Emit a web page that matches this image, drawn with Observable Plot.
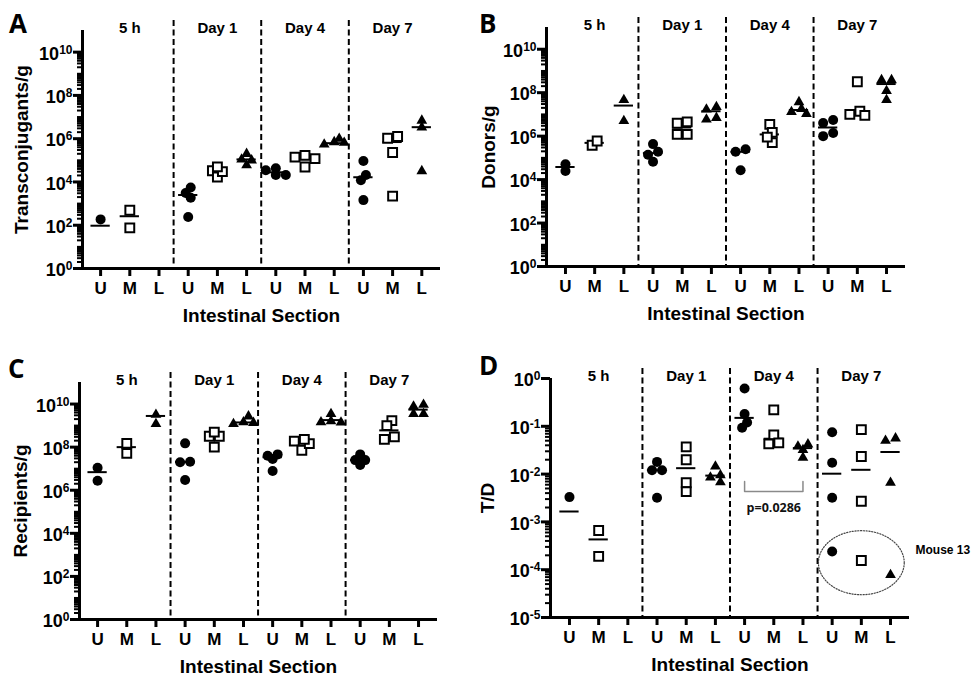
<!DOCTYPE html>
<html>
<head>
<meta charset="utf-8">
<script src="https://cdn.jsdelivr.net/npm/d3@7"></script>
<script src="https://cdn.jsdelivr.net/npm/@observablehq/plot@0.6"></script>
<style>
  body { margin: 0; background: #fff; }
  #wrap { position: relative; width: 973px; height: 677px; overflow: hidden; background: #fff; }
  .panel { position: absolute; }
  .letter { position: absolute; font-family: "Open Sans", "Liberation Sans", sans-serif; font-weight: 700; font-size: 26px; line-height: 26px; color: #000; }
</style>
</head>
<body>
<div id="wrap"></div>
<script>
// ---------------- data ----------------
const timepoints = ["5 h", "Day 1", "Day 4", "Day 7"];
const sections = ["U", "M", "L"];
const xAxisTitle = "Intestinal Section";
const panelLetters = ["A", "B", "C", "D"];
const yTitles = ["Transconjugants/g", "Donors/g", "Recipients/g", "T/D"];

// values per timepoint -> section (U, M, L)
const transconjugants = [
  [[186], [490, 76], []],
  [[5500, 3100, 1870, 240], [33000, 17000, 30000, 50000], [110000, 60000, 100000, 200000]],
  [[35000, 21000, 21000, 43000], [141000, 49000, 120000, 170000], [700000, 540000, 650000, 1000000]],
  [[93000, 21000, 12000, 1450], [1050000, 1260000, 230000, 2200], [6900000, 3300000, 32000]]
];
const transconjugantMedians = [[95, 260, null], [2500, 32000, 110000], [28000, 120000, 620000], [16500, 700000, 3400000]];

const donors = [
  [[25000, 51000], [380000, 600000], [46000000, 5000000]],
  [[430000, 190000, 140000, 66000], [3900000, 1200000, 1200000, 4500000], [17000000, 5900000, 7000000, 22000000]],
  [[190000, 250000, 27000], [3500000, 1500000, 500000, 900000], [18000000, 10700000, 13000000, 37000000]],
  [[5500000, 4000000, 1000000, 1400000], [320000000, 14000000, 10000000, 9000000], [380000000, 380000000, 120000000, 46000000]]
];
const donorMedians = [[38000, 490000, 25500000], [165000, 2500000, 14000000], [190000, 1200000, 16000000], [2500000, 12000000, 250000000]];

const recipients = [
  [[2750000, 11000000], [51000000, 150000000], [1200000000, 3200000000]],
  [[150000000, 21000000, 20000000, 3000000], [320000000, 100000000, 320000000, 500000000], [1350000000, 1200000000, 1450000000, 2700000000]],
  [[46000000, 7800000, 28000000, 40000000], [190000000, 72000000, 145000000, 230000000], [1450000000, 1400000000, 1600000000, 3500000000]],
  [[25000000, 15000000, 25000000, 46000000], [1700000000, 1000000000, 300000000, 230000000], [7800000000, 9300000000, 3500000000, 3500000000]]
];
const recipientMedians = [[6900000, 100000000, 2800000000], [20500000, 320000000, 1400000000], [34000000, 165000000, 1800000000], [25000000, 600000000, 5500000000]];

const ratios = [
  [[0.0033], [0.00066, 0.00019], []],
  [[0.018, 0.012, 0.012, 0.0032], [0.037, 0.020, 0.0066, 0.0043], [0.0145, 0.0095, 0.0085, 0.0068]],
  [[0.62, 0.18, 0.12, 0.093], [0.22, 0.066, 0.045, 0.043], [0.038, 0.032, 0.042, 0.022]],
  [[0.075, 0.0173, 0.0032, 0.00024], [0.085, 0.0234, 0.0027, 0.000156], [0.050, 0.056, 0.0066, 0.000078]]
];
const ratioMedians = [[0.00165, 0.00043, null], [0.012, 0.0133, 0.0093], [0.15, 0.055, 0.035], [0.0102, 0.0123, 0.029]];

const countExponents = [0, 2, 4, 6, 8, 10];
const ratioExponents = [-5, -4, -3, -2, -1, 0];

// annotation of panel D
const pValueText = "p=0.0286";
const pComparison = { timepoint: 2, sectionFrom: 0, sectionTo: 2, bracketY: 0.0043, bracketTop: 0.007, labelY: 0.002 };
const mouseLabel = "Mouse 13";
const mouseCircle = { timepoint: 3, section: 1, centerY: 0.00014, rxSections: 1.47, ryDecades: 0.67, labelY: 0.00026 };

// ---------------- layout ----------------
const layouts = [
  { left: 0,   top: 0,   width: 480, height: 330, ml: 82, mr: 40, mt: 30, mb: 62, xDomain: [-0.62, 11.64], yDomain: [1, 1e11], ylabDx: -61 },
  { left: 480, top: 0,   width: 493, height: 330, ml: 66, mr: 68, mt: 27, mb: 64, xDomain: [-0.65, 11.65], yDomain: [1, 1e11], ylabDx: -58 },
  { left: 0,   top: 330, width: 480, height: 347, ml: 79, mr: 43, mt: 52, mb: 58, xDomain: [-0.62, 11.65], yDomain: [1, 1e11], ylabDx: -59 },
  { left: 480, top: 330, width: 493, height: 347, ml: 70, mr: 64, mt: 48, mb: 60, xDomain: [-0.65, 11.65], yDomain: [1e-5, 1], ylabDx: -63 }
];
const letterPos = [[9, 10], [479, 10], [8, 355], [479, 352]];

const FONT = "'Liberation Sans', Arial, sans-serif";

// spread overlapping points horizontally (GraphPad-style scatter)
function layoutGroup(group, pxX, pxY) {
  const step = 5, T = 6;
  const sorted = group.slice().sort((a, b) => b.v - a.v);
  sorted.forEach(p => p.py = -Math.log10(p.v) * pxY);
  const placed = [];
  for (const p of sorted) {
    for (let k = 0; k < 30; k++) {
      const o = k === 0 ? 0 : (k % 2 ? -1 : 1) * Math.ceil(k / 2) * step;
      if (placed.every(q => (q.px - o) ** 2 + (q.py - p.py) ** 2 >= T * T)) { p.px = o; break; }
    }
    placed.push(p);
  }
  const byY = sorted.slice().sort((a, b) => a.py - b.py);
  let comp = [];
  const flush = () => {
    if (comp.length) {
      const mn = d3.min(comp, d => d.px), mx = d3.max(comp, d => d.px);
      const s = (mn + mx) / 2;
      comp.forEach(d => d.px -= s);
    }
    comp = [];
  };
  byY.forEach((p, i) => {
    if (i > 0 && p.py - byY[i - 1].py >= T) flush();
    comp.push(p);
  });
  flush();
  sorted.forEach(p => p.off = p.px / pxX);
}

function superscript(svg) {
  d3.select(svg).selectAll("text").each(function () {
    const t = this.textContent;
    const m = /^10\^(-?\d+)$/.exec(t);
    if (!m) return;
    const sel = d3.select(this);
    sel.text(null);
    sel.append("tspan").text("10");
    sel.append("tspan").attr("dy", "-0.5em").attr("font-size", "12px").text(m[1]);
  });
}

function buildPanel(k, values, medians, exponents) {
  const L = layouts[k];
  const pxX = (L.width - L.ml - L.mr) / (L.xDomain[1] - L.xDomain[0]);
  const e0 = Math.log10(L.yDomain[0]), e1 = Math.log10(L.yDomain[1]);
  const pxY = (L.height - L.mt - L.mb) / (e1 - e0);
  const x0 = L.xDomain[0], y0 = L.yDomain[0];

  const pts = [];
  values.forEach((tp, ti) => tp.forEach((vals, si) => {
    const g = vals.map(v => ({ ti, si, idx: ti * 3 + si, v, off: 0 }));
    layoutGroup(g, pxX, pxY);
    pts.push(...g);
  }));
  const med = [];
  medians.forEach((tp, ti) => tp.forEach((v, si) => { if (v != null) med.push({ idx: ti * 3 + si, v }); }));

  const majors = d3.range(e0, e1).map(e => 10 ** e);
  const minors = [];
  for (let e = e0; e < e1 - 1; e++) for (let m = 2; m <= 9; m++) minors.push(m * 10 ** e);
  const majorLong = exponents.map(e => 10 ** e);
  const majorShort = majors.filter(v => !exponents.includes(Math.round(Math.log10(v))));

  const ticks = [];
  timepoints.forEach((t, ti) => sections.forEach((s, si) => ticks.push({ idx: ti * 3 + si, label: s })));
  const dividers = d3.range(1, timepoints.length).map(i => i * 3 - 0.5);

  const marks = [
    Plot.ruleX(dividers, { strokeWidth: 2, strokeDasharray: "6,3.5", insetTop: -10 }),
    Plot.ruleY(minors.concat(majorShort), { x1: x0, x2: x0, insetLeft: -5, insetRight: 0, strokeWidth: 2 }),
    Plot.ruleY(majorLong, { x1: x0, x2: x0, insetLeft: -9, insetRight: 0, strokeWidth: 3 }),
    Plot.ruleX(ticks, { x: "idx", y1: y0, y2: y0, insetBottom: -8, insetTop: 0, strokeWidth: 3 }),
    Plot.ruleX([x0], { strokeWidth: 3 }),
    Plot.ruleY([y0], { strokeWidth: 3 }),
    Plot.text(exponents, { x: x0, y: d => 10 ** d, text: d => "10^" + d, dx: -10, dy: 2, textAnchor: "end", lineAnchor: "middle", fontSize: 18, fontWeight: "bold", fontFamily: FONT }),
    Plot.text(ticks, { x: "idx", y: y0, text: "label", dy: 20, lineAnchor: "middle", fontSize: 17, fontWeight: "bold", fontFamily: FONT }),
    Plot.text([xAxisTitle], { frameAnchor: "bottom", dy: 47, lineAnchor: "middle", textAnchor: "middle", fontSize: 19, fontWeight: "bold", fontFamily: FONT }),
    Plot.text([yTitles[k]], { frameAnchor: "left", rotate: -90, dx: L.ylabDx, textAnchor: "middle", lineAnchor: "middle", fontSize: 19, fontWeight: "bold", fontFamily: FONT }),
    Plot.text(timepoints, { x: (d, i) => i * 3 + 1, frameAnchor: "top", dy: -2, lineAnchor: "middle", textAnchor: "middle", fontSize: 15, fontWeight: "bold", fontFamily: FONT }),
    Plot.ruleY(med, { y: "v", x1: d => d.idx - 0.33, x2: d => d.idx + 0.33, strokeWidth: 2 }),
    Plot.dot(pts.filter(d => d.si === 0), { x: d => d.idx + d.off, y: "v", symbol: "circle", r: 5, fill: "black", stroke: "none" }),
    Plot.dot(pts.filter(d => d.si === 1), { x: d => d.idx + d.off, y: "v", symbol: "square", r: 5, fill: "white", stroke: "black", strokeWidth: 2 }),
    Plot.dot(pts.filter(d => d.si === 2), { x: d => d.idx + d.off, y: "v", symbol: "triangle", r: 4, fill: "black", stroke: "none" })
  ];

  if (k === 3) {
    const a = pComparison.timepoint * 3 + pComparison.sectionFrom;
    const b = pComparison.timepoint * 3 + pComparison.sectionTo;
    const bracket = [
      { x: a, y: pComparison.bracketTop }, { x: a, y: pComparison.bracketY },
      { x: b, y: pComparison.bracketY }, { x: b, y: pComparison.bracketTop }
    ];
    marks.push(Plot.line(bracket, { x: "x", y: "y", stroke: "#8a8a8a", strokeWidth: 1.5 }));
    marks.push(Plot.text([pValueText], { x: (a + b) / 2, y: pComparison.labelY, lineAnchor: "middle", fontSize: 12.5, fontWeight: "bold", fontFamily: "'Open Sans', sans-serif", fill: "#111" }));
    const cx = mouseCircle.timepoint * 3 + mouseCircle.section;
    const lc = Math.log10(mouseCircle.centerY);
    const ell = d3.range(0, 121).map(i => {
      const t = i / 120 * 2 * Math.PI;
      return { x: cx + mouseCircle.rxSections * Math.cos(t), y: 10 ** (lc + mouseCircle.ryDecades * Math.sin(t)) };
    });
    marks.push(Plot.line(ell, { x: "x", y: "y", stroke: "#444", strokeWidth: 1.2, strokeDasharray: "1.2,1.6" }));
    marks.push(Plot.text([mouseLabel], { x: L.xDomain[1], y: mouseCircle.labelY, dx: 6, textAnchor: "start", lineAnchor: "middle", fontSize: 12, fontWeight: "bold", fontFamily: FONT }));
  }

  const svg = Plot.plot({
    width: L.width, height: L.height,
    marginLeft: L.ml, marginRight: L.mr, marginTop: L.mt, marginBottom: L.mb,
    x: { domain: L.xDomain, axis: null },
    y: { type: "log", domain: L.yDomain, axis: null },
    style: { fontFamily: FONT, background: "transparent", overflow: "visible" },
    marks
  });
  superscript(svg);
  const div = document.createElement("div");
  div.className = "panel";
  div.style.left = L.left + "px";
  div.style.top = L.top + "px";
  div.appendChild(svg);
  document.getElementById("wrap").appendChild(div);

  const letter = document.createElement("div");
  letter.className = "letter";
  letter.style.left = letterPos[k][0] + "px";
  letter.style.top = letterPos[k][1] + "px";
  letter.textContent = panelLetters[k];
  document.getElementById("wrap").appendChild(letter);
}

buildPanel(0, transconjugants, transconjugantMedians, countExponents);
buildPanel(1, donors, donorMedians, countExponents);
buildPanel(2, recipients, recipientMedians, countExponents);
buildPanel(3, ratios, ratioMedians, ratioExponents);
</script>
</body>
</html>
